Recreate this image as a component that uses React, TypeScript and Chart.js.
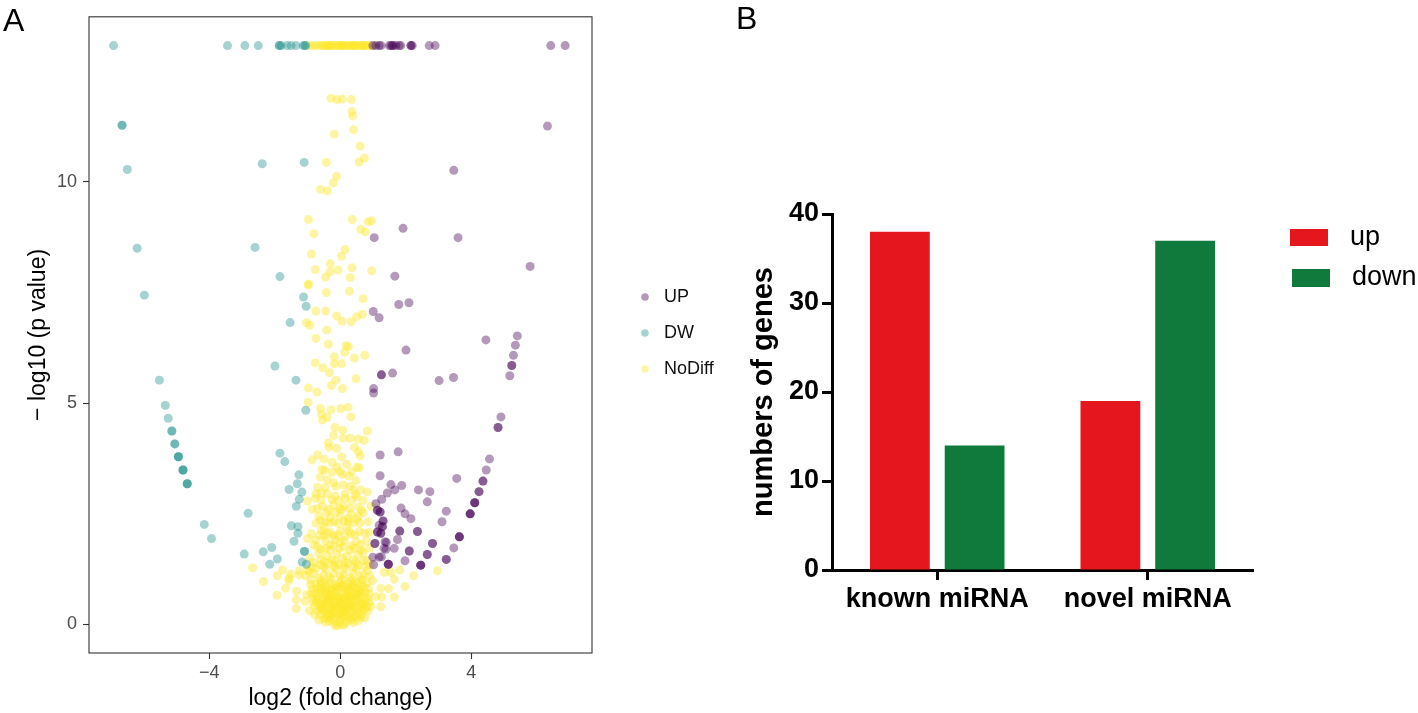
import React, { useEffect, useRef } from "react";
import { Chart, registerables } from "chart.js";

Chart.register(...registerables);

// ---------- Panel A: volcano plot data (log2 fold change, -log10 p) ----------
const groupNames = ["UP", "DW", "NoDiff"];

const upPoints: [number, number][] = [
  [1.0, 13.08], [1.09, 13.08], [1.19, 13.08], [1.25, 13.08], [1.5, 13.08], [1.55, 13.08], [1.59, 13.08],
  [1.62, 13.08], [1.7, 13.08], [1.8, 13.08], [1.85, 13.08], [2.16, 13.08], [2.16, 13.08], [2.2, 13.08],
  [2.72, 13.08], [2.9, 13.08], [6.43, 13.08], [6.87, 13.08],
  [6.33, 11.26], [3.47, 10.26], [1.92, 8.95], [1.04, 8.74], [3.6, 8.74], [5.8, 8.09], [1.67, 7.87],
  [1.79, 7.23], [2.1, 7.27], [1.01, 7.07], [1.19, 6.93], [4.45, 6.43], [5.41, 6.52], [5.35, 6.31],
  [5.29, 6.08], [5.24, 5.85], [5.24, 5.85], [5.18, 5.62], [1.6, 5.68], [1.26, 5.64], [1.26, 5.64],
  [3.02, 5.51], [3.46, 5.58], [2.01, 6.2], [1.02, 5.33], [1.02, 5.23], [4.91, 4.69], [4.82, 4.45],
  [4.82, 4.45], [4.56, 3.74], [4.46, 3.49], [4.36, 3.24], [4.36, 3.24], [4.24, 3.0], [4.24, 3.0],
  [4.11, 2.75], [4.11, 2.75], [4.11, 2.75], [3.97, 2.5], [3.97, 2.5], [3.97, 2.5], [3.64, 1.98],
  [3.64, 1.98], [3.64, 1.98], [3.24, 1.47], [3.24, 1.47], [3.47, 1.73], [3.56, 3.3], [3.24, 2.56],
  [3.11, 2.32], [2.74, 3.0], [2.39, 3.04], [2.66, 2.77], [1.77, 3.9], [1.22, 3.83], [1.22, 3.36],
  [1.55, 3.16], [1.88, 3.14], [1.67, 3.04], [1.44, 2.97], [1.27, 2.83], [1.86, 2.63], [1.98, 2.5],
  [2.16, 2.39], [1.82, 2.11], [1.82, 2.11], [2.36, 2.1], [2.36, 2.1], [2.82, 1.83], [2.82, 1.83],
  [1.75, 1.92], [2.11, 1.66], [2.11, 1.66], [2.66, 1.58], [2.66, 1.58], [1.98, 1.44], [1.65, 1.72],
  [2.46, 1.34], [2.46, 1.34], [2.46, 1.34], [1.47, 1.36], [1.47, 1.36], [1.47, 1.36], [1.37, 1.87],
  [1.4, 1.7], [1.31, 2.34], [1.31, 2.34], [1.22, 2.54], [1.22, 2.54], [1.29, 2.21], [1.29, 2.21],
  [1.24, 2.06], [1.24, 2.06], [1.26, 1.53], [1.09, 2.73], [1.14, 2.58], [1.14, 2.58], [1.19, 2.24],
  [1.14, 2.09], [1.14, 2.09], [1.06, 1.83], [1.06, 1.83], [1.41, 1.85], [1.34, 1.72], [1.0, 1.52],
  [1.19, 1.52], [1.02, 1.35],
];

const dwPoints: [number, number][] = [
  [-6.92, 13.08], [-3.44, 13.08], [-2.91, 13.08], [-2.5, 13.08], [-1.86, 13.08], [-1.86, 13.08],
  [-1.8, 13.08], [-1.62, 13.08], [-1.5, 13.08], [-1.35, 13.08], [-1.13, 13.08], [-1.08, 13.08],
  [-1.05, 13.08],
  [-6.66, 11.28], [-6.66, 11.28], [-6.5, 10.28], [-2.38, 10.41], [-1.1, 10.44], [-6.2, 8.5],
  [-2.6, 8.52], [-5.98, 7.44], [-1.84, 7.86], [-1.12, 7.4], [-1.04, 7.19], [-1.53, 6.82],
  [-5.52, 5.52], [-5.34, 4.95], [-5.25, 4.66], [-5.14, 4.37], [-5.14, 4.37], [-5.05, 4.08],
  [-5.05, 4.08], [-4.94, 3.79], [-4.94, 3.79], [-4.94, 3.79], [-4.8, 3.49], [-4.8, 3.49],
  [-4.8, 3.49], [-4.67, 3.18], [-4.67, 3.18], [-4.67, 3.18], [-1.99, 5.84], [-1.35, 5.52],
  [-1.05, 4.84], [-1.84, 3.87], [-1.69, 3.68], [-1.26, 3.38], [-1.31, 3.18], [-1.17, 2.99],
  [-1.56, 3.05], [-1.25, 2.83], [-1.34, 2.67], [-2.81, 2.51], [-4.15, 2.26], [-3.93, 1.94],
  [-1.49, 2.23], [-1.29, 2.21], [-1.29, 2.06], [-1.41, 1.88], [-2.93, 1.59], [-2.35, 1.64],
  [-2.09, 1.74], [-1.92, 1.48], [-2.15, 1.36], [-1.09, 1.65], [-1.09, 1.65], [-1.16, 1.41],
  [-1.03, 1.36],
];

const noDiffPoints: [number, number][] = [
  // top row (capped p values)
  [-0.95, 13.08], [-0.86, 13.08], [-0.76, 13.08], [-0.66, 13.08], [-0.58, 13.08], [-0.52, 13.08],
  [-0.47, 13.08], [-0.41, 13.08], [-0.36, 13.08], [-0.3, 13.08], [-0.25, 13.08], [-0.19, 13.08],
  [-0.14, 13.08], [-0.08, 13.08], [-0.03, 13.08], [0.03, 13.08], [0.09, 13.08], [0.14, 13.08],
  [0.2, 13.08], [0.26, 13.08], [0.31, 13.08], [0.37, 13.08], [0.43, 13.08], [0.48, 13.08],
  [0.54, 13.08], [0.6, 13.08], [0.66, 13.08], [0.71, 13.08], [0.77, 13.08], [0.83, 13.08],
  [0.89, 13.08], [0.95, 13.08], [-0.33, 13.08], [0.05, 13.08], [0.4, 13.08], [0.7, 13.08],
  // upper scatter
  [-0.28, 11.89], [-0.1, 11.86], [0.07, 11.87], [0.34, 11.86], [0.36, 11.59], [0.38, 11.49],
  [0.41, 11.18], [-0.18, 11.08], [0.61, 10.81], [0.74, 10.54], [0.58, 10.45], [-0.42, 10.44],
  [-0.11, 10.13], [-0.21, 9.98], [-0.6, 9.83], [-0.39, 9.8], [0.37, 9.15], [0.85, 9.1],
  [0.96, 9.12], [0.63, 8.93], [0.77, 8.87], [-0.97, 9.15], [-0.8, 8.83], [0.15, 8.47],
  [0.04, 8.32], [-0.88, 8.37], [-0.3, 8.15], [-0.76, 8.02], [-0.31, 7.97], [-0.07, 8.01],
  [0.36, 8.06], [0.96, 7.99], [-0.44, 7.85], [0.31, 7.84], [-0.98, 7.67], [-0.96, 7.69],
  [-0.42, 7.5], [0.28, 7.53], [0.7, 7.36], [-0.74, 7.08], [-0.44, 7.08], [-0.11, 6.97],
  [0.06, 6.85], [0.34, 6.84], [0.5, 6.95], [0.68, 7.01], [-1.03, 6.82], [-0.93, 6.76],
  [-0.41, 6.65], [-0.74, 6.46], [-0.36, 6.33], [0.18, 6.3], [0.25, 6.28], [-0.18, 6.05],
  [0.14, 6.15], [0.43, 6.02], [0.75, 6.08], [-0.76, 5.91], [-0.53, 5.8], [0.04, 5.89],
  [-0.18, 5.89], [-0.33, 5.69], [0.48, 5.55], [-0.13, 5.52], [-0.27, 5.4], [0.07, 5.33],
  [-0.97, 5.34], [-0.71, 5.25], [-0.98, 5.02], [-0.6, 4.88], [-0.28, 4.85], [0.02, 4.88],
  [0.24, 4.91], [-0.57, 4.75], [-0.4, 4.68], [0.33, 4.69], [-0.54, 4.62], [-0.16, 4.45],
  [0.08, 4.39], [0.83, 4.37], [-0.2, 4.27], [0.09, 4.21], [0.31, 4.21], [0.55, 4.19],
  [0.74, 4.16], [-0.36, 4.1], [-0.34, 4.0], [-0.11, 3.98], [0.44, 4.0], [0.56, 3.9],
  [0.61, 3.81], [-0.69, 3.83], [-0.49, 3.74], [-0.86, 3.72], [0.05, 3.79], [-0.24, 3.66],
  [0.2, 3.62], [-0.09, 3.55], [0.51, 3.55], [0.58, 3.54], [-0.47, 3.48], [-0.24, 3.44],
  [0.07, 3.39], [0.27, 3.35], [-0.61, 3.33], [-0.39, 3.27], [0.48, 3.25], [-0.69, 3.1],
  [-0.13, 3.12], [0.3, 3.12], [0.63, 3.04], [-0.57, 2.97], [-0.39, 2.95], [0.15, 2.95],
  [0.46, 2.94], [0.83, 2.99], [-0.76, 2.85], [-0.25, 2.82], [-0.05, 2.8], [0.35, 2.8],
  [0.7, 2.8], [-1.0, 2.79], [-0.74, 2.95], [-0.54, 2.67], [0.12, 2.67], [0.55, 2.65],
  [0.94, 2.67], [-0.41, 2.53], [-0.13, 2.53], [0.33, 2.5], [0.71, 2.52], [-0.74, 2.29],
  [-0.46, 2.32], [-0.18, 2.32], [0.12, 2.34], [0.4, 2.29], [0.6, 2.29], [0.86, 2.32],
  [-0.57, 2.13], [-0.31, 2.09], [0.0, 2.11], [0.27, 2.11], [0.75, 2.06], [-1.0, 1.94],
  [-0.74, 1.91], [-0.44, 1.89], [-0.15, 1.92], [0.12, 1.89], [0.5, 1.87], [0.8, 1.89],
  [-0.59, 1.7], [-0.31, 1.68], [-0.03, 1.72], [0.3, 1.68], [0.63, 1.68], [0.89, 1.72],
  [-0.92, 1.5], [-0.59, 1.46], [-0.25, 1.47], [0.07, 1.5], [0.4, 1.46], [0.71, 1.44],
  [-0.65, 1.6], [-0.4, 1.55], [-0.1, 1.6], [0.2, 1.55], [0.55, 1.58], [-0.8, 1.8], [-0.3, 1.8],
  [0.0, 1.85], [0.35, 1.78], [0.7, 1.62], [-0.5, 2.0], [-0.2, 2.0], [0.15, 2.0], [0.45, 2.02],
  [-0.65, 2.45], [-0.3, 2.42], [0.0, 2.45], [0.25, 2.4], [0.55, 2.45], [-0.85, 2.6], [-0.5, 2.2],
  [0.2, 2.2], [0.05, 2.6], [-0.2, 2.7],
  [-0.82, 1.4], [-0.48, 1.42], [-0.15, 1.43], [0.15, 1.4], [0.48, 1.41], [0.82, 1.45],
  [-0.7, 1.75], [-0.45, 1.72], [-0.2, 1.78], [0.1, 1.75], [0.42, 1.72], [0.62, 1.8],
  [-0.88, 2.05], [-0.62, 2.02], [-0.38, 2.05], [-0.08, 2.02], [0.33, 2.05], [0.58, 2.1], [0.88, 2.08],
  [-0.6, 2.35], [-0.32, 2.3], [-0.05, 2.28], [0.25, 2.32], [0.5, 2.38],
  [-0.7, 2.62], [-0.35, 2.6], [-0.02, 2.62], [0.3, 2.62], [0.65, 2.58],
  [-0.58, 2.82], [-0.15, 2.9], [0.15, 2.85], [0.5, 2.88],
  [-0.45, 3.1], [-0.2, 3.2], [0.1, 3.15], [0.4, 3.05], [-0.55, 3.5], [0.0, 3.45], [0.35, 3.45],
  // band around y 1
  [-1.76, 1.23], [-1.56, 1.05], [-1.25, 1.12], [-1.0, 1.23], [-0.74, 1.27], [-0.44, 1.25],
  [-0.13, 1.27], [0.17, 1.26], [0.5, 1.25], [0.83, 1.22], [-0.9, 1.01], [-0.59, 0.99],
  [-0.28, 1.02], [0.04, 1.01], [0.33, 0.99], [0.68, 1.01], [0.99, 0.99], [-0.6, 1.35],
  [-0.35, 1.38], [-0.05, 1.35], [0.25, 1.38], [0.55, 1.35], [0.9, 1.35], [-0.8, 1.15],
  [-0.5, 1.12], [-0.2, 1.15], [0.1, 1.12], [0.4, 1.15], [0.7, 1.12], [-0.95, 1.2], [0.9, 1.1],
  [-0.65, 1.05], [-0.35, 1.08], [0.0, 1.1], [0.3, 1.06], [0.6, 1.08], [-0.85, 1.3], [-0.5, 1.3],
  [-0.2, 1.32], [0.1, 1.3], [0.4, 1.3], [0.75, 1.3],
  // outer arcs
  [-2.67, 1.28], [-2.34, 0.97], [-1.92, 1.1], [-1.57, 0.99], [-1.67, 0.82], [-1.93, 0.66],
  [-1.34, 0.56], [-1.34, 0.36], [-1.07, 0.52], [-0.94, 0.31], [-1.02, 0.67], [-1.33, 0.75],
  [-1.25, 1.21], [-1.06, 1.1], [-1.51, 1.14], [1.34, 1.18], [1.55, 1.18], [1.82, 1.23],
  [1.65, 1.02], [2.24, 1.1], [2.97, 1.21], [1.98, 0.86], [1.48, 0.81], [1.24, 0.82],
  [1.27, 0.62], [1.65, 0.62], [1.24, 0.4], [0.94, 0.41], [1.09, 0.63], [0.63, 0.15],
  // dense core
  [-0.08, -0.02], [0.05, 0.0], [-0.2, 0.04], [0.18, 0.05], [-0.33, 0.08], [0.3, 0.1], [-0.02, 0.07],
  [-0.5, 0.13], [-0.41, 0.15], [-0.27, 0.12], [-0.13, 0.16], [0.02, 0.14], [0.12, 0.17], [0.25, 0.15],
  [0.38, 0.13], [0.47, 0.18], [-0.6, 0.22], [-0.46, 0.24], [-0.35, 0.21], [-0.22, 0.25], [-0.07, 0.23],
  [0.07, 0.26], [0.2, 0.22], [0.33, 0.25], [0.44, 0.21], [0.56, 0.26], [0.65, 0.23], [-0.7, 0.31],
  [-0.56, 0.33], [-0.43, 0.3], [-0.29, 0.34], [-0.16, 0.31], [-0.02, 0.35], [0.13, 0.32], [0.27, 0.36],
  [0.4, 0.3], [0.52, 0.34], [0.68, 0.32], [0.76, 0.35], [-0.78, 0.41], [-0.63, 0.4], [-0.5, 0.43],
  [-0.37, 0.39], [-0.24, 0.42], [-0.1, 0.4], [0.03, 0.44], [0.17, 0.41], [0.31, 0.43], [0.45, 0.39],
  [0.59, 0.42], [0.71, 0.45], [0.8, 0.4], [-0.72, 0.5], [-0.57, 0.52], [-0.44, 0.48], [-0.31, 0.53],
  [-0.18, 0.5], [-0.05, 0.54], [0.09, 0.49], [0.23, 0.52], [0.36, 0.5], [0.5, 0.55], [0.63, 0.51],
  [0.77, 0.53], [-0.83, 0.6], [-0.68, 0.62], [-0.53, 0.58], [-0.4, 0.63], [-0.26, 0.6], [-0.12, 0.64],
  [0.01, 0.59], [0.15, 0.62], [0.29, 0.6], [0.42, 0.64], [0.56, 0.6], [0.7, 0.63], [0.84, 0.59],
  [-0.77, 0.7], [-0.61, 0.72], [-0.47, 0.69], [-0.33, 0.73], [-0.2, 0.7], [-0.06, 0.74], [0.08, 0.7],
  [0.21, 0.73], [0.35, 0.69], [0.49, 0.74], [0.62, 0.71], [0.75, 0.72], [-0.85, 0.8], [-0.7, 0.82],
  [-0.55, 0.79], [-0.41, 0.83], [-0.27, 0.8], [-0.13, 0.84], [0.02, 0.81], [0.16, 0.84], [0.3, 0.79],
  [0.44, 0.83], [0.58, 0.8], [0.72, 0.84], [0.86, 0.81], [-0.75, 0.9], [-0.6, 0.92], [-0.46, 0.89],
  [-0.32, 0.93], [-0.17, 0.9], [-0.03, 0.94], [0.11, 0.91], [0.25, 0.93], [0.39, 0.9], [0.53, 0.94],
  [0.66, 0.9], [0.8, 0.93], [-0.35, 0.45], [-0.15, 0.55], [0.05, 0.3], [0.2, 0.65], [-0.45, 0.75],
  [0.35, 0.85], [-0.25, 0.2], [0.1, 0.4], [-0.55, 0.35], [0.45, 0.55], [-0.1, 0.85], [0.25, 0.78],
  [-0.4, 0.55], [0.12, 0.58], [-0.2, 0.37], [0.38, 0.42], [-0.62, 0.8], [0.6, 0.75], [-0.3, 0.65],
  [0.0, 0.5], [-0.9, 0.9], [-0.88, 0.7], [-0.82, 0.5], [0.88, 0.7], [0.9, 0.5], [0.85, 0.3],
  [-0.78, 0.22], [0.75, 0.15], [-0.65, 0.1], [0.55, 0.08], [-0.45, 0.05], [0.4, 0.04], [-0.15, -0.03],
  [0.12, -0.02], [-0.58, 0.45], [-0.3, 0.28], [0.0, 0.2], [0.28, 0.45], [0.52, 0.68], [-0.22, 0.78],
  [0.05, 0.88], [-0.5, 0.95], [0.48, 0.97], [-0.7, 0.58], [0.68, 0.45], [-0.08, 0.62], [0.18, 0.3],
  [-0.38, 0.62], [0.32, 0.62], [-0.15, 0.42],
];

const volcanoXTicks = [-4, 0, 4];
const volcanoYTicks = [0, 5, 10];

// ---------- Panel B: bar chart data ----------
const barCategories = ["known miRNA", "novel miRNA"];
const barSeriesNames = ["up", "down"];
const upCounts = [38, 19];
const downCounts = [14, 37];
const barYTicks = [0, 10, 20, 30, 40];

const FONT = "Arial, 'Liberation Sans', Helvetica, sans-serif";
const groupColors = ["rgba(68,1,84,0.4)", "rgba(33,144,140,0.4)", "rgba(253,231,37,0.42)"];
const barColors = ["#E5161E", "#0F7A3C"];

const fmtMinus = (v: number) => (v < 0 ? "\u2212" + Math.abs(v) : String(v));

export default function App() {
  const refA = useRef<HTMLCanvasElement | null>(null);
  const refB = useRef<HTMLCanvasElement | null>(null);

  useEffect(() => {
    const boxPlugin = {
      id: "panelBox",
      afterDraw(chart: any) {
        const { ctx, chartArea } = chart;
        ctx.save();
        ctx.strokeStyle = "#333333";
        ctx.lineWidth = 1.1;
        ctx.strokeRect(chartArea.left, chartArea.top, chartArea.right - chartArea.left, chartArea.bottom - chartArea.top);
        ctx.restore();
      },
    };
    const legendA = {
      id: "legendA",
      afterDraw(chart: any) {
        const { ctx } = chart;
        const ys = [297, 333, 369];
        ctx.save();
        groupNames.forEach((name, i) => {
          ctx.beginPath();
          ctx.fillStyle = groupColors[i];
          ctx.arc(645, ys[i], 3.8, 0, Math.PI * 2);
          ctx.fill();
          ctx.fillStyle = "#111";
          ctx.font = `18px ${FONT}`;
          ctx.textBaseline = "middle";
          ctx.textAlign = "left";
          ctx.fillText(name, 664, ys[i]);
        });
        ctx.restore();
      },
    };

    const mk = (pts: [number, number][]) => pts.map(([x, y]) => ({ x, y }));
    const sets = [upPoints, dwPoints, noDiffPoints];

    const chartA = new Chart(refA.current as HTMLCanvasElement, {
      type: "scatter",
      data: {
        datasets: sets.map((pts, i) => ({
          label: groupNames[i],
          data: mk(pts),
          backgroundColor: groupColors[i],
          pointBackgroundColor: groupColors[i],
          pointBorderWidth: 0,
          borderWidth: 0,
          pointRadius: 4.5,
          pointHoverRadius: 4.5,
        })),
      },
      options: {
        animation: false,
        responsive: false,
        events: [],
        devicePixelRatio: 1,
        layout: { padding: { top: 13, right: 730 - 592, left: 0, bottom: 0 } },
        plugins: { legend: { display: false }, tooltip: { enabled: false } },
        scales: {
          x: {
            type: "linear",
            min: -7.67,
            max: 7.69,
            afterFit: (s: any) => { s.height = 713 - 653; },
            afterBuildTicks: (a: any) => { a.ticks = volcanoXTicks.map((v) => ({ value: v })); },
            grid: { drawOnChartArea: false, drawTicks: true, tickLength: 6, tickColor: "#333", tickWidth: 1.1 },
            border: { display: false },
            ticks: { color: "#4D4D4D", font: { family: FONT, size: 18 }, padding: 3, callback: (v: any) => fmtMinus(Number(v)) },
            title: { display: true, text: "log2 (fold change)", color: "#000", font: { family: FONT, size: 23 }, padding: { top: 0, bottom: 1 } },
          },
          y: {
            type: "linear",
            min: -0.645,
            max: 13.73,
            afterFit: (s: any) => { s.width = 89; },
            afterBuildTicks: (a: any) => { a.ticks = volcanoYTicks.map((v) => ({ value: v })); },
            grid: { drawOnChartArea: false, drawTicks: true, tickLength: 6, tickColor: "#333", tickWidth: 1.1 },
            border: { display: false },
            ticks: { color: "#4D4D4D", font: { family: FONT, size: 18 }, padding: 6, callback: (v: any) => fmtMinus(Number(v)) },
            title: { display: true, text: "\u2212 log10 (p value)", color: "#000", font: { family: FONT, size: 23 }, padding: { top: 25, bottom: 0 } },
          },
        },
      },
      plugins: [boxPlugin, legendA],
    } as any);

    const legendB = {
      id: "legendB",
      afterDraw(chart: any) {
        const { ctx } = chart;
        const boxes = [
          { x: 560, y: 229, w: 38, h: 17, ty: 238 },
          { x: 562, y: 269, w: 38, h: 18, ty: 278 },
        ];
        ctx.save();
        barSeriesNames.forEach((name, i) => {
          const b = boxes[i];
          ctx.fillStyle = barColors[i];
          ctx.fillRect(b.x, b.y, b.w, b.h);
          ctx.fillStyle = "#000";
          ctx.font = `27px ${FONT}`;
          ctx.textBaseline = "middle";
          ctx.textAlign = "left";
          ctx.fillText(name, b.x + 60, b.ty);
        });
        ctx.restore();
      },
    };

    const chartB = new Chart(refB.current as HTMLCanvasElement, {
      type: "bar",
      data: {
        labels: barCategories,
        datasets: [
          { label: barSeriesNames[0], data: upCounts, backgroundColor: barColors[0], borderWidth: 0 },
          { label: barSeriesNames[1], data: downCounts, backgroundColor: barColors[1], borderWidth: 0 },
        ],
      },
      options: {
        animation: false,
        responsive: false,
        events: [],
        devicePixelRatio: 1,
        layout: { padding: { top: 214, right: 688 - 523, left: 0, bottom: 0 } },
        datasets: { bar: { categoryPercentage: 0.71, barPercentage: 0.8 } },
        plugins: { legend: { display: false }, tooltip: { enabled: false } },
        scales: {
          x: {
            afterFit: (s: any) => { s.height = 713 - 570; },
            grid: { offset: false, drawOnChartArea: false, drawTicks: true, tickLength: 10, tickColor: "#000", tickWidth: 3 },
            border: { display: true, color: "#000", width: 3 },
            ticks: { color: "#000", font: { family: FONT, size: 27, weight: "bold" }, padding: 3 },
          },
          y: {
            min: 0,
            max: 40,
            afterFit: (s: any) => { s.width = 102; },
            afterBuildTicks: (a: any) => { a.ticks = barYTicks.map((v) => ({ value: v })); },
            grid: { drawOnChartArea: false, drawTicks: true, tickLength: 10, tickColor: "#000", tickWidth: 3 },
            border: { display: true, color: "#000", width: 3 },
            ticks: { color: "#000", font: { family: FONT, size: 27, weight: "bold" }, padding: 3 },
            title: { display: true, text: "numbers of genes", color: "#000", font: { family: FONT, size: 29, weight: "bold" }, padding: { top: 17, bottom: 0 } },
          },
        },
      },
      plugins: [legendB],
    } as any);

    return () => {
      chartA.destroy();
      chartB.destroy();
    };
  }, []);

  return (
    <div style={{ position: "fixed", left: 0, top: 0, width: 1418, height: 713, background: "#fff", overflow: "hidden" }}>
      <canvas ref={refA} width={730} height={713} style={{ position: "absolute", left: 0, top: 0, width: 730, height: 713 }} />
      <canvas ref={refB} width={688} height={713} style={{ position: "absolute", left: 730, top: 0, width: 688, height: 713 }} />
      <div style={{ position: "absolute", left: 3, top: 2, fontFamily: FONT, fontSize: 32, lineHeight: "36px", color: "#000" }}>A</div>
      <div style={{ position: "absolute", left: 736, top: 0, fontFamily: FONT, fontSize: 32, lineHeight: "36px", color: "#000" }}>B</div>
    </div>
  );
}
